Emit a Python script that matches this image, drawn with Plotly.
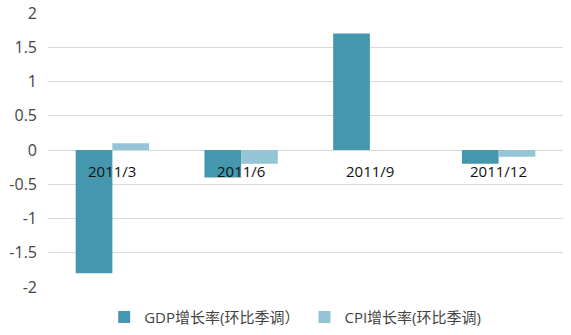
import plotly.graph_objects as go

categories = ["2011/3", "2011/6", "2011/9", "2011/12"]
gdp = [-1.8, -0.4, 1.7, -0.2]
cpi = [0.1, -0.2, 0, -0.1]
yticks = [2, 1.5, 1, 0.5, 0, -0.5, -1, -1.5, -2]

font = "Open Sans, Liberation Sans, Noto Sans CJK SC, sans-serif"

fig = go.Figure()
fig.add_trace(go.Bar(x=categories, y=gdp, name="GDP增长率(环比季调）",
                     marker=dict(color="#4497AE", line=dict(width=0))))
fig.add_trace(go.Bar(x=categories, y=cpi, name="CPI增长率(环比季调)",
                     marker=dict(color="#93C5D6", line=dict(width=0))))

for c in categories:
    fig.add_annotation(x=c, y=-0.3, text=c, showarrow=False,
                       font=dict(family=font, size=15, color="#111"), xref="x", yref="y")

fig.update_layout(
    width=571, height=335,
    margin=dict(l=48, r=8, t=13, b=48, autoexpand=False),
    paper_bgcolor="white", plot_bgcolor="white",
    barmode="group", bargap=0.43, bargroupgap=0,
    font=dict(family=font, size=15, color="#444"),
    showlegend=True,
    legend=dict(orientation="h", x=0.48, xanchor="center", y=-0.05, yanchor="top",
                font=dict(family=font, size=15, color="#444"), itemwidth=30,
                traceorder="normal", tracegroupgap=0),
    xaxis=dict(showticklabels=False, showgrid=False, zeroline=False, showline=False,
               ticks="", automargin=False),
    yaxis=dict(range=[-2, 2], tickvals=yticks, ticktext=[str(v) for v in yticks],
               showgrid=True, gridcolor="#D9D9D9", gridwidth=1,
               zeroline=True, zerolinecolor="#D9D9D9", zerolinewidth=1,
               showline=False, ticks="", ticklabelstandoff=10, automargin=False,
               tickfont=dict(family=font, size=16, color="#444")),
)

fig.write_html("out.html")
